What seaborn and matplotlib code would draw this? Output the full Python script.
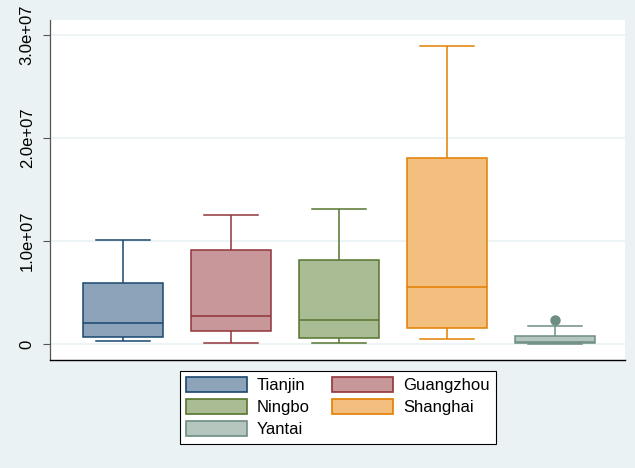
import matplotlib
matplotlib.use("Agg")
import matplotlib.pyplot as plt
from matplotlib.patches import Patch
import pandas as pd
import seaborn as sns
import numpy as np

# Values (lower whisker, Q1, median, Q3, upper whisker [, outliers])
cities = ['Tianjin', 'Guangzhou', 'Ningbo', 'Shanghai', 'Yantai']
tianjin = [3.0e5, 6.8e5, 2.0e6, 5.9e6, 1.01e7]
guangzhou = [1.0e5, 1.26e6, 2.7e6, 9.1e6, 1.25e7]
ningbo = [1.0e5, 5.8e5, 2.3e6, 8.15e6, 1.31e7]
shanghai = [5.0e5, 1.55e6, 5.5e6, 1.81e7, 2.89e7]
yantai = [0.0, 0.0, 1.0e5, 1.2e5, 1.5e5, 4.0e5, 7.8e5, 1.75e6, 2.33e6]

fills = ['#8DA3BA', '#C8979A', '#A9BC93', '#F2BF7E', '#B5C6BE']
edges = ['#1A476F', '#90353B', '#55752F', '#E37E00', '#6E8E84']

values = [tianjin, guangzhou, ningbo, shanghai, yantai]
df = pd.concat([pd.DataFrame({'city': c, 'value': v}) for c, v in zip(cities, values)],
               ignore_index=True)

bg = '#EAF2F3'
plt.rcParams['font.family'] = ['Liberation Sans', 'DejaVu Sans']

fig = plt.figure(figsize=(6.35, 4.68), dpi=100, facecolor=bg)
ax = fig.add_axes([50 / 635, 1 - 360 / 468, 575 / 635, 340 / 468])
ax.set_facecolor('white')

box_w = 0.74
for c, fc, ec in zip(cities, fills, edges):
    sub = df[df.city == c]
    sns.boxplot(data=sub, x='city', y='value', order=cities, ax=ax, color=fc,
                linecolor=ec, saturation=1, width=box_w, linewidth=1.1, whis=1.5,
                flierprops=dict(marker='o', markerfacecolor=ec, markeredgecolor=ec,
                                markersize=6.5))

# wider whisker caps like the original
for ln in ax.lines:
    x = np.asarray(ln.get_xdata(), dtype=float)
    y = np.asarray(ln.get_ydata(), dtype=float)
    if len(x) == 2 and abs(y[0] - y[1]) < 1 and abs(abs(x[1] - x[0]) - box_w / 2) < 0.02:
        cx = x.mean()
        ln.set_xdata([cx - 0.25, cx + 0.25])

ax.set_xlim(-0.68, 4.65)
ax.set_ylim(-0.155e7, 3.146e7)
ax.set_yticks([0, 1e7, 2e7, 3e7])
ax.set_yticklabels(['0', '1.0e+07', '2.0e+07', '3.0e+07'], rotation=90, va='center',
                   fontsize=12)
ax.set_xticks([])
ax.set_xlabel('')
ax.set_ylabel('')
ax.yaxis.grid(True, color=bg, linewidth=1.2)
ax.set_axisbelow(True)
ax.tick_params(axis='y', length=5, width=0.8, color='#555555', pad=6)
for s in ['top', 'right']:
    ax.spines[s].set_visible(False)
ax.spines['left'].set_color('#555555')
ax.spines['left'].set_linewidth(0.9)
ax.spines['bottom'].set_color('black')
ax.spines['bottom'].set_linewidth(1.0)

# legend: column-major fill -> Tianjin, Ningbo, Yantai | Guangzhou, Shanghai
order = [0, 2, 4, 1, 3]
handles = [Patch(facecolor=fills[i], edgecolor=edges[i], linewidth=1.2) for i in order]
labels = [cities[i] for i in order]
leg = fig.legend(handles, labels, ncol=2, loc='upper center',
                 bbox_to_anchor=(338 / 635, 1 - 371 / 468), fontsize=12,
                 frameon=True, fancybox=False, framealpha=1, edgecolor='black',
                 handlelength=3.65, handleheight=1.0, labelspacing=0.36,
                 handletextpad=0.6, columnspacing=1.35, borderpad=0.36,
                 borderaxespad=0)
leg.get_frame().set_linewidth(0.8)

fig.savefig('out.png', dpi=100, facecolor=bg)
